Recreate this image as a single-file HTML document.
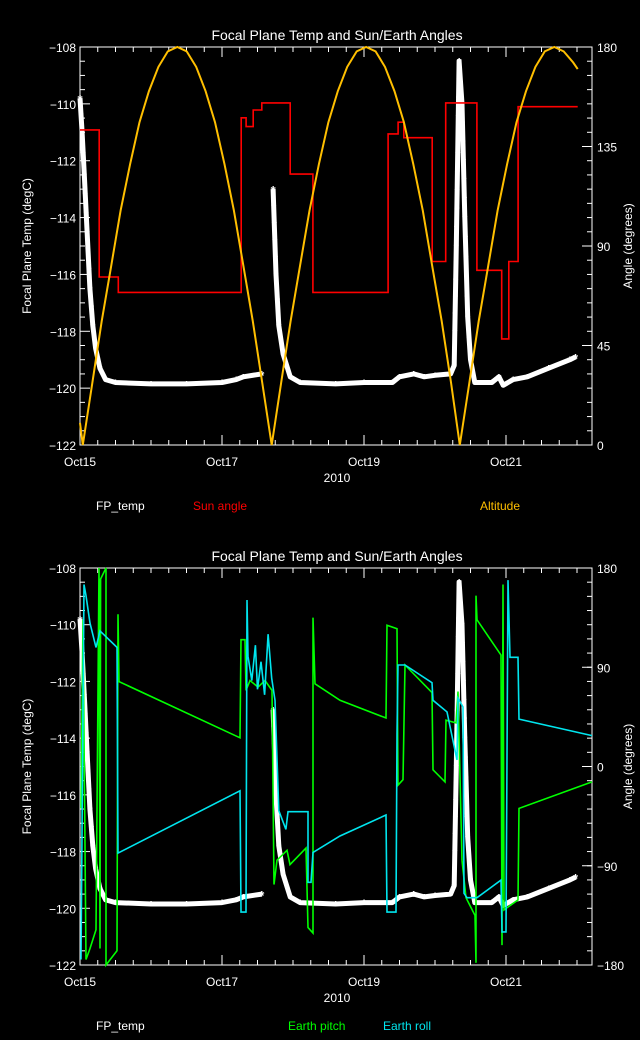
<!DOCTYPE html>
<html><head><meta charset="utf-8"><style>
html,body{margin:0;padding:0;background:#000;}
svg{display:block;font-family:"Liberation Sans",sans-serif;}
</style></head><body>
<svg id="chart" width="640" height="1040" viewBox="0 0 640 1040" xmlns="http://www.w3.org/2000/svg">
<rect x="0" y="0" width="640" height="1040" fill="#000"/>
</svg>
<script>
// ---- data (time in days since Oct15 00:00) ----
const dateLabels = ["Oct15","Oct17","Oct19","Oct21"];
const dateTickDays = [0,2,4,6];
const tempTicks = [-108,-110,-112,-114,-116,-118,-120,-122];
const angleTicksTop = [0,45,90,135,180];
const angleTicksBottom = [-180,-90,0,90,180];

const tempDays = [0.0,0.03,0.06,0.1,0.14,0.18,0.22,0.28,0.36,0.5,1.0,1.5,2.0,2.2,2.3,2.56,null,2.72,2.76,2.8,2.86,2.96,3.1,3.6,4.0,4.4,4.5,4.7,4.85,5.0,5.22,5.27,5.3,5.34,5.38,5.42,5.46,5.5,5.56,5.8,5.9,5.96,6.1,6.3,6.6,6.9,6.98];
const tempVals = [-109.8,-111,-112.5,-114.5,-116.5,-117.8,-118.6,-119.3,-119.7,-119.8,-119.85,-119.85,-119.8,-119.7,-119.6,-119.5,null,-113.0,-116,-117.8,-118.8,-119.6,-119.8,-119.85,-119.8,-119.8,-119.6,-119.5,-119.6,-119.55,-119.5,-119.2,-115,-108.5,-110,-114,-117.5,-119,-119.8,-119.8,-119.6,-119.9,-119.7,-119.6,-119.3,-119.0,-118.9];

const sunDays = [0,0.27,0.27,0.54,0.54,2.27,2.27,2.34,2.34,2.44,2.44,2.56,2.56,2.96,2.96,3.28,3.28,4.34,4.34,4.48,4.48,4.56,4.56,4.96,4.96,5.15,5.15,5.59,5.59,5.94,5.94,6.04,6.04,6.17,6.17,7.01];
const sunVals = [142.5,142.5,76,76,69,69,148,148,144,144,151.5,151.5,154.7,154.7,122.5,122.5,69,69,140.7,140.7,146,146,139,139,83,83,154.7,154.7,79,79,48,48,83,83,153,153];

const altDays = [0,0.04,0.173,0.306,0.439,0.572,0.705,0.838,0.971,1.104,1.237,1.37,1.503,1.636,1.769,1.902,2.035,2.168,2.301,2.434,2.567,2.70,2.833,2.966,3.099,3.232,3.365,3.498,3.631,3.764,3.897,4.03,4.163,4.296,4.429,4.562,4.695,4.828,4.961,5.094,5.227,5.35,5.483,5.616,5.749,5.882,6.015,6.148,6.281,6.414,6.547,6.68,6.813,6.946,7.01];
const altVals = [10,0,28,56,81,106,127,146,160,171,178,180,178,171,160,146,127,106,81,56,28,0,28,56,81,106,127,146,160,171,178,180,178,171,160,146,127,106,81,56,28,0,28,56,81,106,127,146,160,171,178,180,178,173,170];

const pitchDays = [0.014,0.042,0.085,0.141,0.225,0.268,0.282,0.29,0.366,0.366,0.521,0.535,0.549,2.254,2.268,2.324,2.338,2.394,2.507,2.606,2.704,2.732,2.775,2.915,2.958,3.183,3.211,3.282,3.282,3.31,3.662,4.31,4.324,4.465,4.479,4.549,4.577,4.958,4.972,5.141,5.155,5.296,5.324,5.38,5.437,5.563,5.577,5.577,5.592,5.93,5.944,5.958,5.972,6.169,6.183,7.211];
const pitchVals = [-38,133,-175,-165,-148,180,-165,170,180,-180,-167,138,77,26,115,115,69,78,72,78,69,-107,-85,-76,-89,-74,-146,-151,135,75,60,44,128,125,-17,-12,92,67,-3,-14,42,39.5,68,-85,-119,-135,-178,155,133,101,-162,165,-130,-121,-38,-14];

const rollDays = [0.014,0.056,0.085,0.141,0.225,0.282,0.521,0.535,2.254,2.268,2.338,2.352,2.366,2.42,2.47,2.5,2.55,2.6,2.65,2.7,2.746,2.8,2.9,2.93,3.211,3.211,3.254,3.282,3.662,4.31,4.324,4.451,4.465,4.479,4.577,4.958,4.972,5.169,5.31,5.324,5.394,5.408,5.451,5.592,5.93,5.944,6.0,6.028,6.056,6.169,6.183,7.211];
const rollVals = [-175,165,155,130,108,123,108,-78.5,-22,-132,-132,151,100,78,110,70,95,65,120,80,60,-40,-57,-41,-41,-105,-105,-78,-63,-44,-132,-132,29.5,92,92,76,60,49.5,6,62,54,-115,-119,-119,-103,-150,-150,169,99,99,43,28];

// ---- drawing ----
const svg = document.getElementById('chart');
const NS = 'http://www.w3.org/2000/svg';
const X0 = 80, X1 = 592, PXDAY = 71;
function xs(d){ return X0 + d*PXDAY; }
function mk(tag, attrs, parent){
  const e = document.createElementNS(NS, tag);
  for (const k in attrs) e.setAttribute(k, attrs[k]);
  (parent||svg).appendChild(e);
  return e;
}
function txt(s, x, y, attrs, parent){
  const e = mk('text', Object.assign({x:x, y:y, fill:'#fff', 'font-size':12}, attrs), parent);
  e.textContent = s;
  return e;
}
function linePath(days, vals, xf, yf){
  let d = '', pen = false;
  for (let i=0;i<days.length;i++){
    if (days[i]===null){ pen=false; continue; }
    d += (pen?'L':'M') + xf(days[i]).toFixed(1) + ' ' + yf(vals[i]).toFixed(1) + ' ';
    pen = true;
  }
  return d;
}

function panel(top, bottom, angMin, angMax, angTicks, nMinorAng, name){
  const g = mk('g', {});
  
  
  const H = bottom - top;
  const yT = v => top + (-108 - v)/14*H;
  const yA = v => bottom - (v-angMin)/(angMax-angMin)*H;

  // title
  const t = txt('Focal Plane Temp and Sun/Earth Angles', 337, top-7, {'text-anchor':'middle','font-size':14}, g);
  
  

  // box
  const box = mk('rect', {x:X0, y:top, width:X1-X0, height:H, fill:'none', stroke:'#fff', 'stroke-width':1}, g);
  
  

  // left ticks
  const axL = mk('g', {}, g);
  
  
  for (let v=-108; v>=-122; v-=0.5){
    const y = yT(v);
    const major = Math.abs(v - Math.round(v/2)*2) < 1e-6;
    mk('line', {x1:X0, x2:X0+(major?10:5), y1:y, y2:y, stroke:'#fff'}, axL);
  }
  tempTicks.forEach(v=>{
    txt(String(v).replace('-', '\u2212'), X0-4, yT(v)+5, {'text-anchor':'end'}, axL);
  });
  const yl = txt('Focal Plane Temp (degC)', 0, 0, {'text-anchor':'middle', transform:'translate(31,'+(top+H/2)+') rotate(-90)'}, g);
  
  

  // right ticks
  const axR = mk('g', {}, g);
  
  
  for (let i=0;i<=nMinorAng;i++){
    const y = top + i*H/nMinorAng;
    mk('line', {x1:X1, x2:X1-5, y1:y, y2:y, stroke:'#fff'}, axR);
  }
  angTicks.forEach(v=>{
    const y = yA(v);
    mk('line', {x1:X1, x2:X1-10, y1:y, y2:y, stroke:'#fff'}, axR);
    txt(String(v).replace('-', '\u2212'), X1+5, y+5, {}, axR);
  });
  const yr = txt('Angle (degrees)', 0, 0, {'text-anchor':'middle', transform:'translate(632,'+(top+H/2)+') rotate(-90)'}, g);
  
  

  // x ticks
  const axX = mk('g', {}, g);
  
  
  for (let d=0; xs(d)<=X1; d+=0.25){
    const x = xs(d);
    const major = Math.abs(d/2 - Math.round(d/2))<1e-6;
    const len = major?10:5;
    mk('line', {x1:x, x2:x, y1:bottom, y2:bottom-len, stroke:'#fff'}, axX);
    mk('line', {x1:x, x2:x, y1:top, y2:top+len, stroke:'#fff'}, axX);
  }
  dateTickDays.forEach((d,i)=>{
    txt(dateLabels[i], xs(d), bottom+21, {'text-anchor':'middle'}, axX);
  });
  txt('2010', 337, bottom+37, {'text-anchor':'middle'}, axX);

  return {g, yT, yA, top, bottom};
}

function drawTemp(p){
  const s = mk('g', {}, p.g);
  
  
  mk('path', {d:linePath(tempDays, tempVals, xs, p.yT), fill:'none', stroke:'#fff', 'stroke-width':5, 'stroke-linejoin':'round'}, s);
  for (let i=0;i<tempDays.length;i++){
    if (tempDays[i]===null) continue;
    const m = txt('*', xs(tempDays[i]), p.yT(tempVals[i])+6, {'text-anchor':'middle','font-size':13,'font-weight':'bold'}, s);
    
    
  }
  // extra markers along the spikes
  for (let i=1;i<tempDays.length;i++){
    if (tempDays[i]===null || tempDays[i-1]===null) continue;
    const dv = Math.abs(tempVals[i]-tempVals[i-1]);
    const n = Math.floor(dv/0.6);
    for (let k=1;k<n;k++){
      const f = k/n;
      const dd = tempDays[i-1] + f*(tempDays[i]-tempDays[i-1]);
      const vv = tempVals[i-1] + f*(tempVals[i]-tempVals[i-1]);
      const m = txt('*', xs(dd), p.yT(vv)+6, {'text-anchor':'middle','font-size':13,'font-weight':'bold'}, s);
      
      
    }
  }
}

// ---- top panel ----
const P1 = panel(47, 445, 0, 180, angleTicksTop, 28, 'top-panel');
drawTemp(P1);
const sun = mk('path', {d:linePath(sunDays, sunVals, xs, P1.yA), fill:'none', stroke:'#ff0000', 'stroke-width':1.6}, P1.g);


const alt = mk('path', {d:linePath(altDays, altVals, xs, P1.yA), fill:'none', stroke:'#ffbf00', 'stroke-width':2}, P1.g);


const l1 = txt('FP_temp', 96, 510, {}, P1.g);
 
const l2 = txt('Sun angle', 193, 510, {fill:'#ff0000'}, P1.g);
 
const l3 = txt('Altitude', 480, 510, {fill:'#ffbf00'}, P1.g);
 

// ---- bottom panel ----
const P2 = panel(568, 965, -180, 180, angleTicksBottom, 28, 'bottom-panel');
drawTemp(P2);
const pitch = mk('path', {d:linePath(pitchDays, pitchVals, xs, P2.yA), fill:'none', stroke:'#00ff00', 'stroke-width':1.6}, P2.g);


const roll = mk('path', {d:linePath(rollDays, rollVals, xs, P2.yA), fill:'none', stroke:'#00e5ee', 'stroke-width':1.6}, P2.g);


const l4 = txt('FP_temp', 96, 1030, {}, P2.g);
 
const l5 = txt('Earth pitch', 288, 1030, {fill:'#00ff00'}, P2.g);
 
const l6 = txt('Earth roll', 383, 1030, {fill:'#00e5ee'}, P2.g);
 
</script>
</body></html>
